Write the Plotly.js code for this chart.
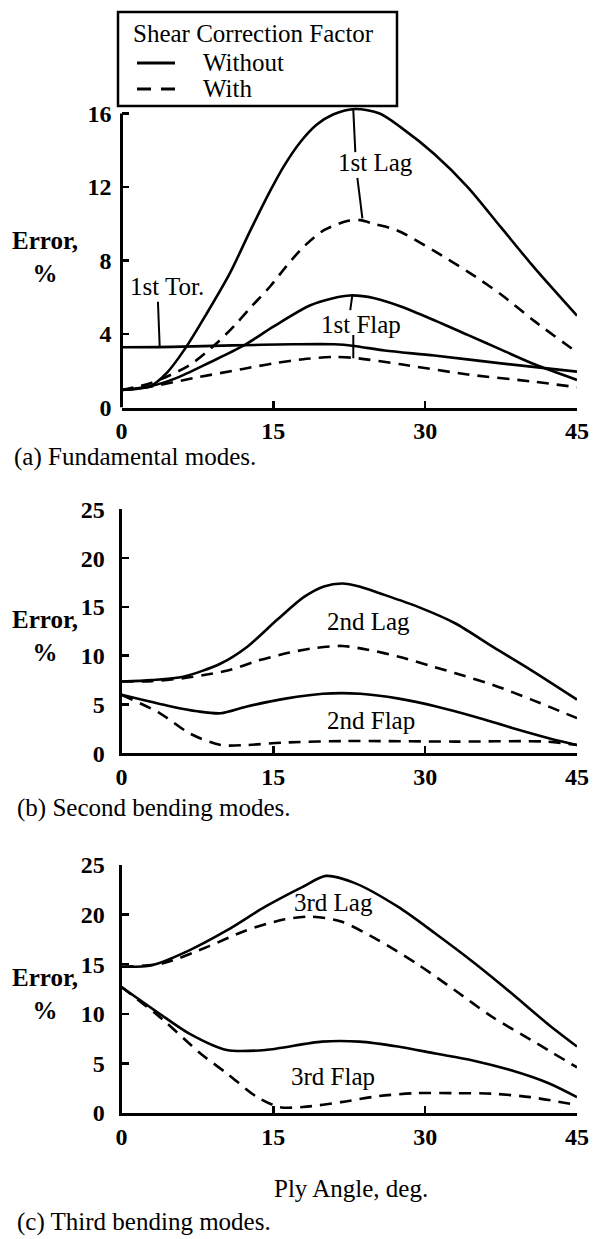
<!DOCTYPE html>
<html>
<head>
<meta charset="utf-8">
<script src="https://cdn.plot.ly/plotly-3.0.1.min.js"></script>
<style>
  html, body { margin: 0; padding: 0; background: #ffffff; }
  #chart { width: 595px; height: 1239px; }
</style>
</head>
<body>
<div id="chart"></div>
<script>
// ---------- Data (ply angle, deg  /  error, %) ----------
// (a) Fundamental modes
const aLagWithoutX = [0, 2.8, 4.5, 6.4, 8.4, 10.7, 12.7, 14.7, 16.0, 17.6, 19.3, 20.9, 23.1, 25.5, 27.6, 30.9, 34.2, 37.5, 40.8, 45];
const aLagWithoutY = [0.95, 1.15, 1.9, 3.3, 5.1, 7.3, 9.6, 11.8, 13.1, 14.4, 15.4, 15.95, 16.25, 16.0, 15.25, 13.8, 12.0, 9.8, 7.6, 5.0];
const aLagWithX = [0, 3.0, 6.7, 9.4, 11.4, 12.85, 14.7, 16.3, 18.0, 20.0, 22.3, 23.6, 24.9, 27.2, 30.8, 34.2, 37.5, 40.8, 45];
const aLagWithY = [0.95, 1.35, 2.3, 3.5, 4.6, 5.5, 6.6, 7.7, 8.75, 9.65, 10.15, 10.2, 10.0, 9.65, 8.55, 7.4, 6.15, 4.7, 3.0];
const aFlapWithoutX = [0, 2.8, 5.4, 8.7, 12.0, 15.0, 18.6, 20.9, 22.6, 25.0, 27.6, 30.9, 34.2, 37.5, 40.8, 45];
const aFlapWithoutY = [0.95, 1.15, 1.6, 2.45, 3.35, 4.4, 5.55, 5.95, 6.1, 5.95, 5.5, 4.75, 3.95, 3.15, 2.35, 1.5];
const aFlapWithX = [0, 3.0, 7.1, 12.0, 15.0, 18.3, 21.0, 23.0, 27.6, 34.2, 40.8, 45];
const aFlapWithY = [0.95, 1.15, 1.6, 2.1, 2.4, 2.65, 2.75, 2.7, 2.35, 1.8, 1.4, 1.1];
const aTorX = [0, 5, 11, 17, 21, 23, 26, 30.9, 37.5, 45];
const aTorY = [3.28, 3.3, 3.38, 3.44, 3.44, 3.35, 3.1, 2.83, 2.4, 1.95];

// (b) Second bending modes
const bLagWithoutX = [0, 3, 6.1, 9.8, 12.4, 15.4, 18, 20, 21.8, 23.5, 25.5, 29.3, 33, 36.7, 40.5, 45];
const bLagWithoutY = [7.35, 7.5, 7.85, 9.2, 10.9, 13.7, 16.0, 17.1, 17.4, 17.1, 16.4, 15.0, 13.3, 10.9, 8.5, 5.5];
const bLagWithX = [0, 3, 6.1, 8, 10.6, 13.5, 16.5, 19.2, 21.8, 24.4, 27.4, 30.4, 33, 36.7, 40.5, 45];
const bLagWithY = [7.35, 7.4, 7.7, 8.0, 8.5, 9.5, 10.3, 10.8, 11.0, 10.6, 9.9, 9.0, 8.2, 7.0, 5.5, 3.6];
const bFlapWithoutX = [0, 4.9, 7.5, 9.8, 12.4, 16.2, 19.9, 23.6, 27.4, 31.1, 34.9, 38.6, 42.4, 45];
const bFlapWithoutY = [6.0, 4.8, 4.3, 4.1, 4.8, 5.6, 6.1, 6.1, 5.6, 4.8, 3.75, 2.6, 1.5, 0.85];
const bFlapWithX = [0, 3.8, 6.8, 9.8, 12.4, 16, 21.8, 33, 42, 45];
const bFlapWithY = [6.0, 4.1, 2.0, 0.85, 0.85, 1.1, 1.25, 1.2, 1.2, 0.85];

// (c) Third bending modes
const cLagWithoutX = [0, 3, 6.7, 10.4, 14.2, 17.9, 20.2, 23.0, 27.3, 31, 34.7, 38.5, 42.2, 45];
const cLagWithoutY = [14.75, 14.9, 16.4, 18.4, 20.8, 22.8, 23.9, 23.2, 20.8, 18.1, 15.25, 12.1, 8.9, 6.7];
const cLagWithX = [0, 4.1, 8.6, 12.3, 16, 18.7, 21.7, 25.4, 29.1, 32.9, 36.6, 40.4, 45];
const cLagWithY = [14.75, 15.1, 16.8, 18.4, 19.5, 19.8, 19.3, 17.4, 15.1, 12.4, 9.7, 7.4, 4.6];
const cFlapWithoutX = [0, 3.7, 6.7, 10.4, 14.2, 19.8, 23.5, 27.3, 31, 34.7, 38.5, 42.2, 45];
const cFlapWithoutY = [12.7, 10.05, 8.0, 6.35, 6.35, 7.2, 7.2, 6.7, 6.0, 5.3, 4.3, 3.0, 1.6];
const cFlapWithX = [0, 4.1, 7.8, 10.4, 13.4, 15.6, 17.9, 21.7, 25.4, 29.1, 32.9, 36.6, 40.4, 45];
const cFlapWithY = [12.7, 9.4, 6.0, 4.0, 1.6, 0.6, 0.6, 1.1, 1.7, 2.0, 2.0, 1.95, 1.6, 0.8];

// Tick values / labels
const xTicks = [0, 15, 30, 45];
const aYTicks = [0, 4, 8, 12, 16];
const bcYTicks = [0, 5, 10, 15, 20, 25];

// Text
const legendTitle = "Shear Correction Factor";
const seriesNames = ["Without", "With"];
const yTitle = "Error,<br>%";
const xTitle = "Ply Angle, deg.";
const captions = ["(a) Fundamental modes.", "(b) Second bending modes.", "(c) Third bending modes."];

// ---------- Styling ----------
const FONT = "Liberation Serif, 'Times New Roman', serif";
const FS = 25;
const W = 595, H = 1239;
const LW = 2.6;
const DASH = "12px,8px";
const px = v => v / W;
const py = v => 1 - v / H;

function line(x, y, dashed, xa, ya, name) {
  return {
    type: "scatter", mode: "lines", x: x, y: y,
    xaxis: xa, yaxis: ya, name: name,
    line: { color: "#000", width: LW, shape: "spline", smoothing: 0.8, dash: dashed ? DASH : "solid" },
    showlegend: false, hoverinfo: "skip"
  };
}

const traces = [
  line(aLagWithoutX, aLagWithoutY, false, "x", "y", "1st Lag, " + seriesNames[0]),
  line(aLagWithX, aLagWithY, true, "x", "y", "1st Lag, " + seriesNames[1]),
  line(aFlapWithoutX, aFlapWithoutY, false, "x", "y", "1st Flap, " + seriesNames[0]),
  line(aFlapWithX, aFlapWithY, true, "x", "y", "1st Flap, " + seriesNames[1]),
  line(aTorX, aTorY, false, "x", "y", "1st Tor."),
  line(bLagWithoutX, bLagWithoutY, false, "x2", "y2", "2nd Lag, " + seriesNames[0]),
  line(bLagWithX, bLagWithY, true, "x2", "y2", "2nd Lag, " + seriesNames[1]),
  line(bFlapWithoutX, bFlapWithoutY, false, "x2", "y2", "2nd Flap, " + seriesNames[0]),
  line(bFlapWithX, bFlapWithY, true, "x2", "y2", "2nd Flap, " + seriesNames[1]),
  line(cLagWithoutX, cLagWithoutY, false, "x3", "y3", "3rd Lag, " + seriesNames[0]),
  line(cLagWithX, cLagWithY, true, "x3", "y3", "3rd Lag, " + seriesNames[1]),
  line(cFlapWithoutX, cFlapWithoutY, false, "x3", "y3", "3rd Flap, " + seriesNames[0]),
  line(cFlapWithX, cFlapWithY, true, "x3", "y3", "3rd Flap, " + seriesNames[1])
];

const xDomain = [px(121.5), px(577)];
const tickFont = { family: FONT, size: 24, color: "#000", weight: "bold" };

function xAxis(anchor) {
  return {
    domain: xDomain, range: [0, 45], anchor: anchor,
    tickmode: "array", tickvals: xTicks, ticktext: xTicks.map(String),
    ticks: "inside", ticklen: 7, tickwidth: 2.5, tickcolor: "#000",
    showline: true, linewidth: 3, linecolor: "#000",
    showgrid: false, zeroline: false, fixedrange: true,
    tickfont: tickFont, ticklabelstandoff: 0
  };
}
function yAxis(anchor, domain, range, ticks, showline) {
  return {
    domain: domain, range: range, anchor: anchor,
    tickmode: "array", tickvals: ticks, ticktext: ticks.map(String),
    ticks: "inside", ticklen: 7, tickwidth: 2.5, tickcolor: "#000",
    showline: showline, linewidth: 3, linecolor: "#000",
    showgrid: false, zeroline: false, fixedrange: true,
    tickfont: tickFont, ticklabelstandoff: 9
  };
}

function label(text, x, y, xref, yref, extra) {
  return Object.assign({
    text: text, x: x, y: y, xref: xref, yref: yref,
    showarrow: false, font: { family: FONT, size: FS, color: "#000" },
    xanchor: "center", yanchor: "middle"
  }, extra || {});
}
const boldFont = { family: FONT, size: FS, color: "#000", weight: "bold" };

const annotations = [
  // legend texts
  label(legendTitle, px(131), py(34), "paper", "paper", { xanchor: "left" }),
  label(seriesNames[0], px(201), py(63), "paper", "paper", { xanchor: "left" }),
  label(seriesNames[1], px(201), py(89), "paper", "paper", { xanchor: "left" }),
  // curve labels
  label("1st Lag", 25.1, 13.35, "x", "y"),
  label("1st Tor.", 4.5, 6.56, "x", "y"),
  label("1st Flap", 23.7, 4.54, "x", "y"),
  label("2nd Lag", 24.4, 13.5, "x2", "y2"),
  label("2nd Flap", 24.6, 3.4, "x2", "y2"),
  label("3rd Lag", 20.9, 21.2, "x3", "y3"),
  label("3rd Flap", 20.9, 3.7, "x3", "y3"),
  // axis titles
  label(yTitle, px(45), py(257), "paper", "paper", { font: boldFont }),
  label(yTitle, px(45), py(636), "paper", "paper", { font: boldFont }),
  label(yTitle, px(45), py(994), "paper", "paper", { font: boldFont }),
  label(xTitle, px(351), py(1188), "paper", "paper"),
  // captions
  label(captions[0], px(12), py(457), "paper", "paper", { xanchor: "left" }),
  label(captions[1], px(15), py(808), "paper", "paper", { xanchor: "left" }),
  label(captions[2], px(15), py(1222), "paper", "paper", { xanchor: "left" })
];

function leader(x0, y0, x1, y1, xr, yr) {
  return { type: "line", xref: xr, yref: yr, x0: x0, y0: y0, x1: x1, y1: y1, line: { color: "#000", width: 2 } };
}

const shapes = [
  // y axis line of panel (a), ending at the 16 tick
  { type: "line", xref: "x domain", yref: "y", x0: 0, x1: 0, y0: 0, y1: 16, line: { color: "#000", width: 3 } },
  // leader lines of panel (a)
  leader(22.9, 16.2, 23.1, 13.9, "x", "y"),
  leader(23.3, 12.5, 23.8, 10.3, "x", "y"),
  leader(3.6, 5.76, 3.77, 3.35, "x", "y"),
  leader(22.8, 6.1, 22.6, 5.3, "x", "y"),
  leader(22.9, 3.95, 22.9, 2.68, "x", "y"),
  // legend box and line samples
  { type: "rect", xref: "paper", yref: "paper", x0: px(118), x1: px(397), y0: py(12), y1: py(106),
    line: { color: "#000", width: 2.5 }, fillcolor: "rgba(0,0,0,0)" },
  { type: "line", xref: "paper", yref: "paper", x0: px(137), x1: px(175), y0: py(63), y1: py(63),
    line: { color: "#000", width: 3 } },
  { type: "line", xref: "paper", yref: "paper", x0: px(137), x1: px(176), y0: py(89), y1: py(89),
    line: { color: "#000", width: 3, dash: "14px,10px" } }
];

const layout = {
  width: W, height: H,
  margin: { l: 0, r: 0, t: 0, b: 0, pad: 0 },
  paper_bgcolor: "#fff", plot_bgcolor: "#fff",
  font: { family: FONT, size: FS, color: "#000" },
  showlegend: false,
  xaxis: xAxis("y"),
  yaxis: yAxis("x", [py(407.5), py(106.2)], [0, 16.4], aYTicks, false),
  xaxis2: xAxis("y2"),
  yaxis2: yAxis("x2", [py(753.3), py(509.3)], [0, 25], bcYTicks, true),
  xaxis3: xAxis("y3"),
  yaxis3: yAxis("x3", [py(1113), py(865)], [0, 25], bcYTicks, true),
  annotations: annotations,
  shapes: shapes
};

Plotly.newPlot("chart", traces, layout, { displayModeBar: false, staticPlot: true });
</script>
</body>
</html>
